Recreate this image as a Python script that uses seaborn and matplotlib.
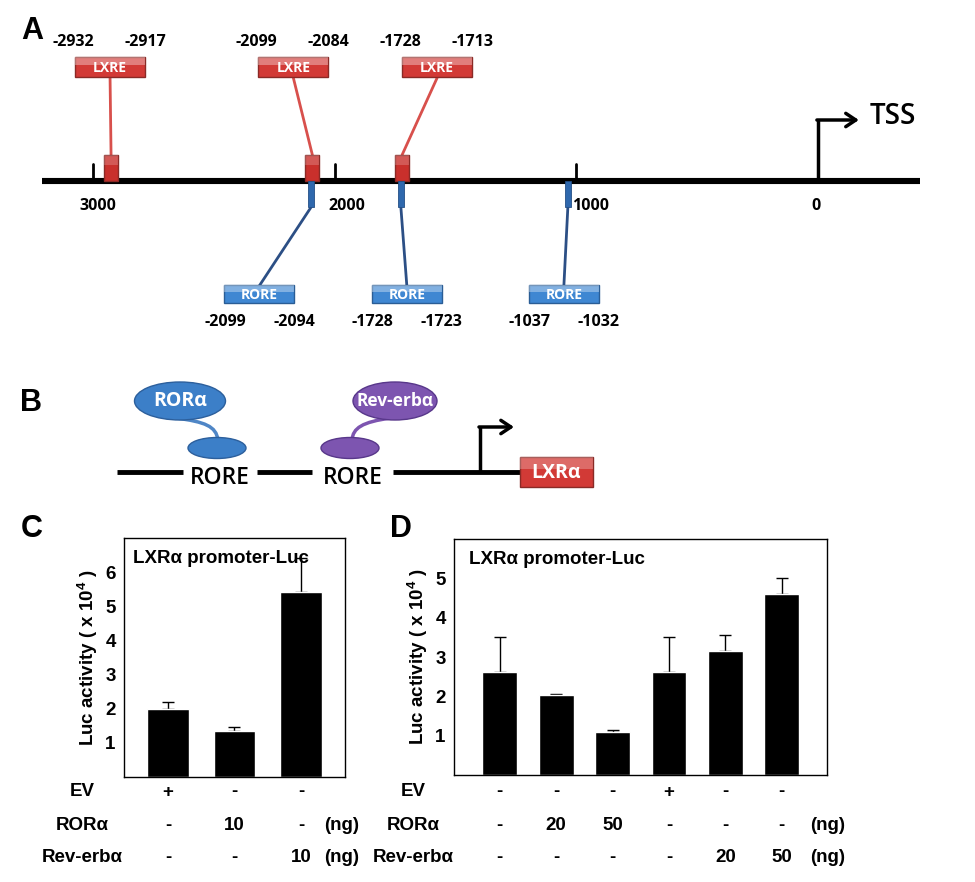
import numpy as np
import pandas as pd
import matplotlib
matplotlib.use("Agg")
import matplotlib.pyplot as plt
import matplotlib.patches as mpatches
import matplotlib.transforms as mtransforms
from matplotlib.path import Path
import seaborn as sns

# ---- panel A: response elements on the LXRa promoter (bp upstream of TSS)
lxre_start = [-2932, -2099, -1728]
lxre_end = [-2917, -2084, -1713]
rore_start = [-2099, -1728, -1037]
rore_end = [-2094, -1723, -1032]
scale_ticks = [3000, 2000, 1000, 0]

# ---- panel C
c_groups = ["c1", "c2", "c3"]
c_luc = [2.0, 1.35, 5.41]
c_err = [0.2, 0.12, 1.0]
c_ev = ["+", "-", "-"]
c_ror = ["-", "10", "-"]
c_rev = ["-", "-", "10"]

# ---- panel D
d_groups = ["d1", "d2", "d3", "d4", "d5", "d6"]
d_luc = [2.63, 2.04, 1.1, 2.63, 3.14, 4.6]
d_err = [0.87, 0.03, 0.05, 0.87, 0.41, 0.4]
d_ev = ["-", "-", "-", "+", "-", "-"]
d_ror = ["-", "20", "50", "-", "-", "-"]
d_rev = ["-", "-", "-", "-", "20", "50"]

RED = "#c9302c"
RED_BOX = "#d23a36"
BLUE = "#2f68ad"
BLUE_BOX = "#3f87d2"
PURPLE = "#7d55b0"

W, H = 975, 882
sns.set_theme(style="white")
plt.rcParams["font.family"] = ["Liberation Sans", "DejaVu Sans"]
for k in ["text.color", "axes.labelcolor", "xtick.color", "ytick.color"]:
    plt.rcParams[k] = "black"
SCH = ["Open Sans", "DejaVu Sans"]  # font of the schematics

fig = plt.figure(figsize=(W / 100, H / 100), dpi=100)

# overlay axes in pixel coordinates for letters / schematic B / table text
ov = fig.add_axes([0, 0, 1, 1])
ov.set_xlim(0, W)
ov.set_ylim(H, 0)
ov.axis("off")

for letter, (x, y) in zip("ABCD", [(32, 31), (31, 403), (32, 529), (401, 529)]):
    ov.text(x, y, letter, fontsize=22, fontweight="bold", ha="center", va="center",
            family=["Liberation Sans", "DejaVu Sans"])

# ================= panel A =================
axA = fig.add_axes([0, 1 - 340 / H, 1, 340 / H])
bp_left, bp_right = 3384, -650
axA.set_xlim(bp_left, bp_right)
axA.set_ylim(340, 0)
axA.axis("off")
bpp = (bp_left - bp_right) / W  # bp per pixel

line_y = 181
axA.plot([3211, -422], [line_y, line_y], color="black", lw=4.4, solid_capstyle="butt", zorder=3)
tick_label_dx = [5, 12, 14, -2]  # pixel nudges of the scale labels
for t, off in zip(scale_ticks, tick_label_dx):
    if t > 0:
        axA.plot([t, t], [164, line_y], color="black", lw=2, zorder=3)
    axA.text(t - off * bpp, 206, str(t), ha="center", va="center", fontsize=11.5,
             fontweight="bold", family=SCH)

# TSS arrow
axA.plot([0, 0], [line_y, 120], color="black", lw=2.5, solid_capstyle="butt", zorder=3)
axA.annotate("", xy=(-41 * bpp, 120), xytext=(1 * bpp, 120),
             arrowprops=dict(arrowstyle="->,head_length=0.6,head_width=0.4", lw=2.5, color="black",
                             shrinkA=0, shrinkB=0))
axA.text(-75 * bpp, 117, "TSS", fontsize=20, fontweight="semibold", ha="center", va="center", family=SCH)

lxre_mid = [-(s + e) / 2 for s, e in zip(lxre_start, lxre_end)]
rore_mid = [-(s + e) / 2 for s, e in zip(rore_start, rore_end)]
lxre_dx = [-1, -19, 35]   # label box offset in pixels
rore_dx = [-52, 6, -4]


def glossy_box(ax, x0, y0, w, h, face, edge, shine=0.35):
    ax.add_patch(mpatches.Rectangle((x0, y0), w, h, fc=face, ec=edge, lw=1, zorder=4))
    ax.add_patch(mpatches.Rectangle((x0, y0), w, h * 0.4, fc="white", ec="none",
                                    alpha=shine, zorder=4.5))


def label_box(ax, xc, yc, w_px, h_px, face, edge, text):
    glossy_box(ax, xc + w_px / 2 * bpp, yc - h_px / 2, -w_px * bpp, h_px, face, edge)
    ax.text(xc, yc + 1, text, color="white", fontsize=10, fontweight="bold", ha="center",
            va="center", zorder=5, family=SCH)


for mid, s, e, dx in zip(lxre_mid, lxre_start, lxre_end, lxre_dx):
    glossy_box(axA, mid - 7 * bpp, 155, 14 * bpp, line_y - 155, RED, "#8a2a26", 0.2)
    bx = mid - dx * bpp
    axA.plot([mid, bx], [155, 78], color="#d8504c", lw=2, zorder=2)
    label_box(axA, bx, 67, 70, 20, RED_BOX, "#8a2a26", "LXRE")
    axA.text(bx + 37 * bpp, 42, str(s), ha="center", va="center", fontsize=11.5, fontweight="bold", family=SCH)
    axA.text(bx - 35 * bpp, 42, str(e), ha="center", va="center", fontsize=11.5, fontweight="bold", family=SCH)

for mid, s, e, dx in zip(rore_mid, rore_start, rore_end, rore_dx):
    axA.add_patch(mpatches.Rectangle((mid - 3 * bpp, line_y), 6 * bpp, 26,
                                     fc=BLUE, ec="#244f85", lw=0.6, zorder=4))
    bx = mid - dx * bpp
    axA.plot([mid, bx], [207, 286], color="#2c4f85", lw=2, zorder=2)
    label_box(axA, bx, 294, 70, 18, BLUE_BOX, "#2a5d95", "RORE")
    axA.text(bx + 34 * bpp, 322, str(s), ha="center", va="center", fontsize=11.5, fontweight="bold", family=SCH)
    axA.text(bx - 35 * bpp, 322, str(e), ha="center", va="center", fontsize=11.5, fontweight="bold", family=SCH)

# ================= panel B (schematic) =================
for x0, x1 in [(117, 183), (257, 312), (393, 520)]:
    ov.plot([x0, x1], [472, 472], color="black", lw=3.5, solid_capstyle="butt")
for xc in [220, 353]:
    ov.text(xc, 478, "RORE", fontsize=16.5, fontweight="semibold", ha="center", va="center", family=SCH)
ov.plot([480, 480], [472, 427], color="black", lw=2.5, solid_capstyle="butt")
ov.annotate("", xy=(514, 427), xytext=(479, 427),
            arrowprops=dict(arrowstyle="->,head_length=0.6,head_width=0.4", lw=2.5, color="black",
                            shrinkA=0, shrinkB=0))
glossy_box(ov, 520, 457, 73, 30, RED_BOX, "#8a2a26", 0.25)
ov.text(556, 473, "LXRα", color="white", fontsize=14, fontweight="bold", ha="center", va="center",
        family=SCH, zorder=6)


def curve(p0, p1, p2, p3, color):
    path = Path([p0, p1, p2, p3], [Path.MOVETO, Path.CURVE4, Path.CURVE4, Path.CURVE4])
    ov.add_patch(mpatches.PathPatch(path, fc="none", ec=color, lw=2.5))


curve((176, 418), (205, 422), (216, 426), (218, 440), "#4f86c6")
ov.add_patch(mpatches.Ellipse((180, 401), 91, 38, fc="#3c7fc8", ec="#2c5f9c", lw=1))
ov.add_patch(mpatches.Ellipse((217, 448), 58, 21, fc="#3c7fc8", ec="#2c5f9c", lw=1))
ov.text(180, 401, "RORα", color="white", fontsize=14, fontweight="bold", ha="center", va="center", family=SCH)

curve((391, 418), (362, 422), (353, 428), (352, 440), PURPLE)
ov.add_patch(mpatches.Ellipse((395, 401), 84, 38, fc=PURPLE, ec="#58378a", lw=1))
ov.add_patch(mpatches.Ellipse((350, 448), 58, 21, fc=PURPLE, ec="#58378a", lw=1))
ov.text(395, 401, "Rev-erbα", color="white", fontsize=12.5, fontweight="bold", ha="center", va="center", family=SCH)


# ================= panels C and D =================
def luc_panel(rect, groups, vals, errs, ymax, rows, label_x, ng_x, width, pad_l, pad_r):
    ax = fig.add_axes(rect)
    df = pd.DataFrame({"group": groups, "luc": vals})
    sns.barplot(data=df, x="group", y="luc", order=groups, color="black", saturation=1,
                width=width, errorbar=None, ax=ax, zorder=2)
    pos = np.arange(len(groups))
    ax.errorbar(pos, vals, yerr=[np.zeros(len(errs)), errs], fmt="none", ecolor="black",
                elinewidth=1, capsize=4, capthick=1, zorder=1)
    ax.set_xlim(-pad_l, len(groups) - 1 + pad_r)
    ax.set_ylim(0, ymax)
    ax.set_yticks(range(1, int(ymax)))
    ax.set_xticks([])
    ax.set_xlabel("")
    ax.set_ylabel("Luc activity ( x 10$^{\\mathregular{4}}$ )", fontsize=13.5, fontweight="bold", labelpad=4)
    ax.tick_params(axis="y", direction="in", length=4, width=1, labelsize=13.5, pad=6)
    for lab in ax.get_yticklabels():
        lab.set_fontweight("bold")
    for sp in ax.spines.values():
        sp.set_visible(True)
        sp.set_color("black")
        sp.set_linewidth(1)
    ax.text(0.04, 0.915, "LXRα promoter-Luc", transform=ax.transAxes, fontsize=13.5,
            fontweight="bold", ha="left", va="center", zorder=3)

    tr = mtransforms.blended_transform_factory(ax.transData, ov.transData)
    names = ["EV", "RORα", "Rev-erbα"]
    row_y = [792, 825, 858]
    for name, row, y in zip(names, rows, row_y):
        ov.text(label_x, y, name, fontsize=13.5, fontweight="bold", ha="center", va="center")
        for p, v in zip(pos, row):
            ov.text(p, y, v, transform=tr, fontsize=13.5, fontweight="bold", ha="center", va="center")
        if name != "EV":
            ov.text(ng_x, y, "(ng)", fontsize=13.5, fontweight="bold", ha="center", va="center")
    return ax


luc_panel([124 / W, 1 - 777 / H, 221 / W, 239 / H], c_groups, c_luc, c_err, 7,
          [c_ev, c_ror, c_rev], 82, 342, 0.62, 0.66, 0.66)
luc_panel([454 / W, 1 - 775 / H, 373 / W, 236 / H], d_groups, d_luc, d_err, 6,
          [d_ev, d_ror, d_rev], 413, 828, 0.62, 0.81, 0.8)

fig.savefig("out.png", dpi=100)
